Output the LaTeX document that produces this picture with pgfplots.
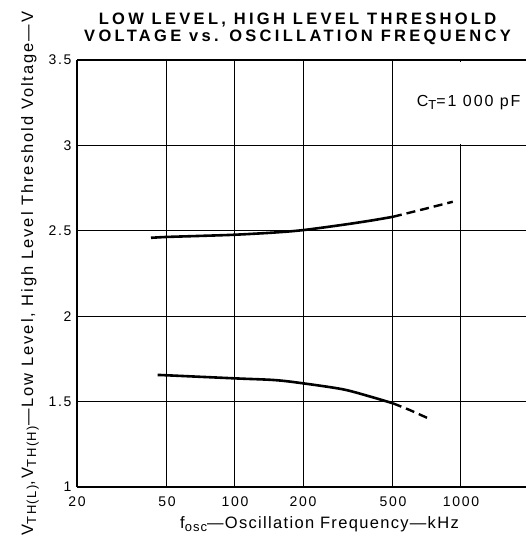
\documentclass[border=0pt]{standalone}
\usepackage{fontspec}
\setmainfont{Liberation Sans}
\usepackage{pgfplots}
\pgfplotsset{compat=1.18}
\usetikzlibrary{calc}
\newcommand{\sub}[1]{\raisebox{-0.35ex}{\fontsize{13}{13}\selectfont #1}}

\begin{document}
\begin{tikzpicture}
\begin{axis}[
    name=main,
    scale only axis,
    width=449pt, height=427pt,
    xmode=log,
    xmin=20, xmax=1940,
    ymin=1, ymax=3.5,
    xtick={20,50,100,200,500,1000},
    xticklabels={20,50,100,200,500,1000},
    ytick={1,1.5,2,2.5,3,3.5},
    yticklabels={1,1.5,2,2.5,3,3.5},
    major tick length=0pt,
    minor tick num=0,
    /pgf/number format/assume math mode=true,
    tick label style={font=\fontsize{14}{14}\selectfont\addfontfeature{LetterSpace=12}},
    xticklabel style={yshift=-6pt},
    yticklabel style={xshift=-2pt},
    grid=major,
    major grid style={black, line width=1pt},
    axis y line*=left,
    axis line style={black, line width=1.4pt},
    xlabel={f\sub{osc}—Oscillation Frequency—kHz},
    xlabel style={font=\fontsize{16.5}{16.5}\selectfont\addfontfeature{LetterSpace=8}, xshift=18pt, yshift=-3pt},
    ylabel={V\sub{TH(L)},V\sub{TH(H)}—Low Level, High Level Threshold Voltage—V},
    ylabel style={font=\fontsize{16.5}{16.5}\selectfont\addfontfeature{LetterSpace=12}, yshift=3pt},
    title={LOW LEVEL, HIGH LEVEL THRESHOLD\\VOLTAGE vs. OSCILLATION FREQUENCY},
    title style={font=\fontsize{16.5}{17}\selectfont\bfseries\addfontfeature{LetterSpace=20}, align=center, xshift=-4pt, yshift=6pt},
    clip=false,
]
\addplot[black, line width=2.6pt, smooth] coordinates {
    (42.5,2.459) (50,2.464) (70,2.470) (100,2.477) (150,2.490) (200,2.504)
    (300,2.535) (400,2.560) (500,2.582)
};
\addplot[black, line width=2.4pt, dash pattern=on 9pt off 5pt] coordinates {
    (500,2.582) (700,2.630) (920,2.670)
};
\addplot[black, line width=2.6pt, smooth] coordinates {
    (45.5,1.656) (50,1.654) (100,1.636) (150,1.626) (200,1.607)
    (300,1.572) (400,1.528) (500,1.490)
};
\addplot[black, line width=2.4pt, dash pattern=on 9pt off 5pt] coordinates {
    (500,1.490) (600,1.448) (733,1.396)
};
\node[fill=white, minimum width=118pt, minimum height=82pt, inner sep=0pt]
    at (axis cs:1350,3.25) {};
\node[font=\fontsize{16}{16}\selectfont\addfontfeature{LetterSpace=12}, anchor=east]
    at (axis cs:1900,3.25) {C\sub{T}=1 000 pF};
\end{axis}
\pgfresetboundingbox
\path[use as bounding box] ($(main.south west)+(-77pt,-52pt)$) rectangle ($(main.north east)+(0pt,60pt)$);
\end{tikzpicture}
\end{document}
